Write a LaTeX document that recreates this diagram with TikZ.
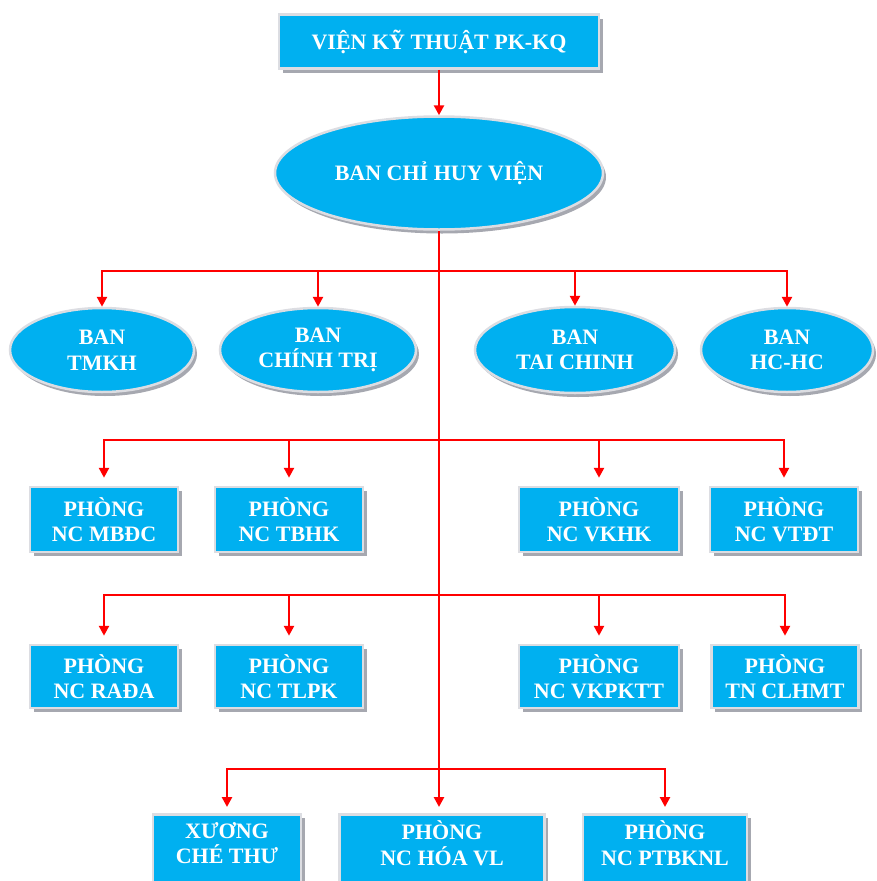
\documentclass[tikz,border=0pt]{standalone}
\usepackage{fontspec}
\setmainfont{Liberation Serif}
\usetikzlibrary{shapes.geometric,arrows.meta,shadows}
\definecolor{boxblue}{HTML}{00B0F0}
\definecolor{edgegray}{HTML}{DCDDE2}
\definecolor{shadegray}{HTML}{A6A8B0}
\begin{document}
\begin{tikzpicture}[x=1pt,y=-1pt,
  lbl/.style={text=white,font=\bfseries\fontsize{22}{25.5}\selectfont,align=center,inner sep=0pt},
  boxnode/.style={lbl,rectangle,fill=boxblue,draw=edgegray,line width=2.5pt,
    drop shadow={shadow xshift=3.5pt,shadow yshift=-4pt,fill=shadegray,opacity=1}},
  ellnode/.style={lbl,ellipse,fill=boxblue,draw=edgegray,line width=2.5pt,
    drop shadow={shadow xshift=3pt,shadow yshift=-4pt,fill=shadegray,opacity=1}},
  conn/.style={draw=red,line width=2.8pt},
  arr/.style={conn,-{Triangle[width=10pt,length=10pt]}},
  toplbl/.style={label={[lbl,anchor=center,yshift=-30pt]north:{#1}}}
]
\useasboundingbox (0,0) rectangle (876,881);

% top
\node[boxnode,minimum width=320pt,minimum height=54pt] (top) at (439,41.5) {VIỆN KỸ THUẬT PK-KQ};
\node[ellnode,minimum width=328pt,minimum height=113pt] (chv) at (439,173) {BAN CHỈ HUY VIỆN};

% level 1 ellipses
\node[ellnode,minimum width=184pt,minimum height=84pt] (e1) at (102,350) {BAN\\TMKH};
\node[ellnode,minimum width=196pt,minimum height=84pt] (e2) at (318,350) {BAN\\CHÍNH TRỊ};
\node[ellnode,minimum width=200pt,minimum height=86pt] (e3) at (575,350) {BAN\\TAI CHINH};
\node[ellnode,minimum width=172pt,minimum height=84pt] (e4) at (787,350) {BAN\\HC-HC};

% row 3 boxes
\node[boxnode,minimum width=148pt,minimum height=65pt] (b1) at (104,519.5) {PHÒNG\\NC MBĐC};
\node[boxnode,minimum width=148pt,minimum height=65pt] (b2) at (289,519.5) {PHÒNG\\NC TBHK};
\node[boxnode,minimum width=160pt,minimum height=65pt] (b3) at (599,519.5) {PHÒNG\\NC VKHK};
\node[boxnode,minimum width=148pt,minimum height=65pt] (b4) at (784,519.5) {PHÒNG\\NC VTĐT};

% row 4 boxes
\node[boxnode,minimum width=148pt,minimum height=63pt] (c1) at (104,676.5) {PHÒNG\\NC RAĐA};
\node[boxnode,minimum width=148pt,minimum height=63pt] (c2) at (289,676.5) {PHÒNG\\NC TLPK};
\node[boxnode,minimum width=160pt,minimum height=63pt] (c3) at (599,676.5) {PHÒNG\\NC VKPKTT};
\node[boxnode,minimum width=147pt,minimum height=63pt] (c4) at (785,676.5) {PHÒNG\\TN CLHMT};

% row 5 boxes (cut off by the lower edge)
\node[boxnode,minimum width=148pt,minimum height=80pt,anchor=north,toplbl={XƯƠNG\\CHÉ THƯ}] (d1) at (227,813) {};
\node[boxnode,minimum width=205pt,minimum height=80pt,anchor=north,toplbl={PHÒNG\\NC HÓA VL}] (d2) at (442,813) {};
\node[boxnode,minimum width=164pt,minimum height=80pt,anchor=north,toplbl={PHÒNG\\NC PTBKNL}] (d3) at (665,813) {};

% bus junctions on the trunk
\coordinate (j1) at (439,271);
\coordinate (j2) at (439,440);
\coordinate (j3) at (439,595);
\coordinate (j4) at (439,769);

% connectors
\draw[arr] (top.south) -- (chv.north);
\draw[arr,shorten >=6pt] (chv.south) -- (chv.south |- d2.north);

\draw[arr] (j1) -| (e1.north);
\draw[arr] (j1) -| (e2.north);
\draw[arr] (j1) -| (e3.north);
\draw[arr] (j1) -| (e4.north);

\draw[arr,shorten >=8pt] (j2) -| (b1.north);
\draw[arr,shorten >=8pt] (j2) -| (b2.north);
\draw[arr,shorten >=8pt] (j2) -| (b3.north);
\draw[arr,shorten >=8pt] (j2) -| (b4.north);

\draw[arr,shorten >=8pt] (j3) -| (c1.north);
\draw[arr,shorten >=8pt] (j3) -| (c2.north);
\draw[arr,shorten >=8pt] (j3) -| (c3.north);
\draw[arr,shorten >=8pt] (j3) -| (c4.north);

\draw[arr,shorten >=6pt] (j4) -| (d1.north);
\draw[arr,shorten >=6pt] (j4) -| (d3.north);
\end{tikzpicture}
\end{document}
